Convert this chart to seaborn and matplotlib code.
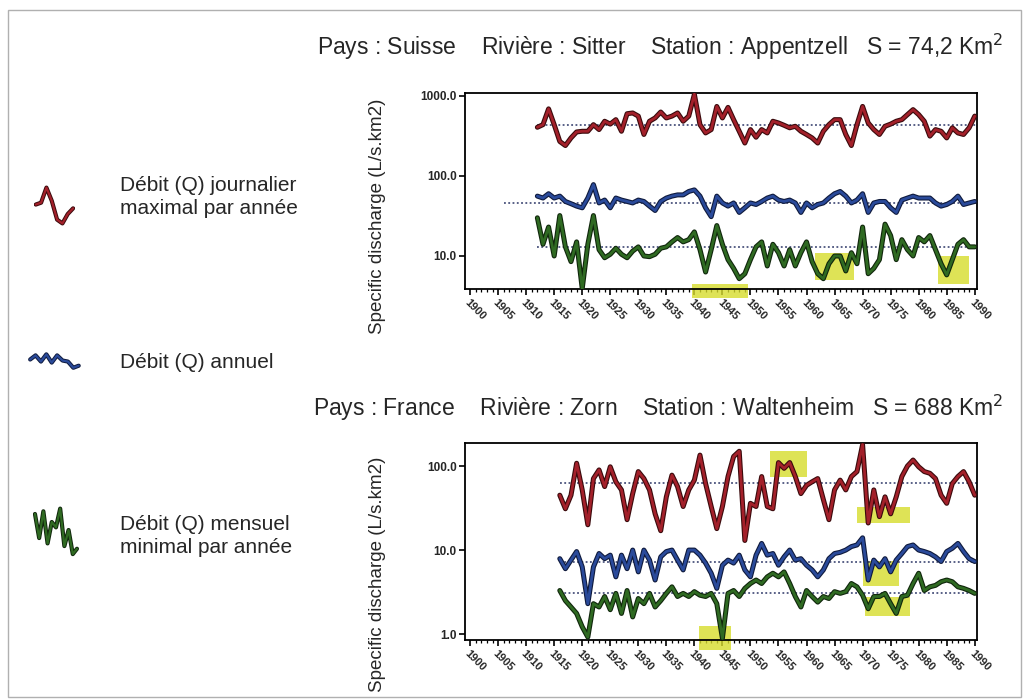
import matplotlib
matplotlib.use('Agg')
import matplotlib.pyplot as plt
import matplotlib.patheffects as pe
from matplotlib.patches import Rectangle
from matplotlib.ticker import MultipleLocator, NullLocator
import seaborn as sns

# Sitter @ Appentzell (Suisse), 1912-1990
years_ch = list(range(1912, 1991))
ch_max = [406, 438, 690, 438, 270, 240, 299, 355, 362, 362, 438, 380, 483, 445, 506, 362, 600, 613, 560, 330, 483, 531, 630, 531, 560, 613, 483,
          560, 1050, 438, 345, 380, 740, 531, 720, 506, 362, 258, 380, 305, 380, 345, 483, 460, 430, 400, 418, 362, 330, 299, 258, 362, 438, 506,
          506, 330, 240, 438, 740, 460, 380, 330, 418, 445, 483, 506, 585, 675, 585, 483, 315, 380, 362, 299, 400, 345, 330, 400, 560]
ch_mean = [56, 53, 60, 53, 56, 48, 45, 42, 40, 53, 78, 46, 50, 40, 53, 50, 48, 46, 50, 48, 42, 37, 48, 53, 56, 58, 58,
           64, 67, 56, 40, 31, 56, 46, 42, 46, 35, 40, 46, 44, 48, 53, 56, 50, 48, 50, 46, 35, 46, 40, 44, 46, 53, 60,
           64, 56, 46, 50, 60, 35, 46, 48, 48, 40, 35, 50, 53, 56, 53, 53, 53, 46, 42, 44, 48, 56, 44, 46, 48]
ch_min = [30, 14, 23, 10, 32, 13, 8.5, 15, 3.9, 14, 32, 12, 9.5, 10.5, 12.5, 10.5, 9.5, 11.5, 13, 10, 9.8, 10.5, 12.5, 13, 15, 17, 15,
          16, 20, 12, 6.3, 12, 24, 14, 9, 7, 5.2, 6, 9, 13, 15, 7.5, 14, 11, 7.5, 12, 7.5, 11, 15, 8.5, 6, 5.2, 8, 10,
          10, 6.5, 11, 8, 23, 6, 7, 9, 25, 18, 9, 16, 12, 10, 17, 15, 18, 12, 8, 5.8, 9, 14, 16, 13, 13]
ch_avg = [438, 46, 12.8]        # dotted average lines
ch_avg_start = [1912, 1906, 1912]

# Zorn @ Waltenheim (France), 1916-1990
years_fr = list(range(1916, 1991))
fr_max = [45, 31, 45, 108, 52, 20, 71, 90, 57, 98, 65, 52, 23, 47, 86, 71, 52, 27, 17, 43, 78, 57, 33, 52,
          68, 135, 62, 33, 18, 33, 75, 130, 150, 13, 36, 33, 75, 33, 31, 110, 94, 110, 75, 47, 59, 65, 71, 40, 23, 52,
          68, 52, 75, 86, 180, 21, 52, 25, 43, 27, 43, 75, 100, 118, 98, 86, 82, 71, 45, 36, 62, 75, 86, 65, 45]
fr_mean = [7.9, 6.0, 7.6, 9.6, 6.3, 2.3, 6.3, 9.1, 7.9, 8.7, 4.8, 8.7, 6.0, 10, 5.5, 10, 7.6, 4.4, 8.3, 9.6, 10, 7.6, 5.8, 10,
           10, 8.7, 7.0, 5.3, 3.5, 6.6, 7.6, 7.0, 8.7, 5.8, 4.8, 8.7, 12, 8.7, 9.1, 6.6, 8.3, 10, 7.6, 7.9, 6.6, 5.8, 4.8, 5.8, 7.9, 9.1,
           9.4, 10, 11, 11.5, 14, 4.4, 7.6, 6.3, 7.9, 5.5, 7.6, 9.1, 11, 11.5, 10, 9.6, 9.1, 8.3, 7.3, 9.6, 10.5, 12, 9.6, 7.9, 7.3]
fr_min = [3.3, 2.5, 2.1, 1.76, 1.22, 0.92, 2.3, 2.1, 2.8, 1.95, 3.05, 1.76, 3.3, 1.6, 2.65, 2.3, 3.05, 2.1, 2.5, 3.05, 3.65, 2.8, 3.05, 2.8,
          3.2, 2.9, 2.8, 3.05, 2.3, 0.89, 3.05, 3.3, 2.8, 3.5, 4.0, 4.4, 4.0, 4.8, 5.3, 4.8, 5.5, 4.0, 2.8, 2.1, 3.3, 2.8, 2.4, 2.8, 2.65, 3.2,
          3.05, 3.2, 4.0, 3.65, 2.9, 2.0, 2.8, 2.8, 3.05, 2.3, 1.76, 2.8, 2.9, 4.0, 5.3, 3.3, 3.65, 3.8, 4.2, 4.4, 4.2, 3.65, 3.5, 3.3, 3.05]
fr_avg = [62, 7.2, 3.05]
fr_avg_start = [1916, 1916, 1916]

# yellow marker highlights (year span, value span)
ch_marks = [((1939.5, 1949.5), (3.0, 4.5)), ((1961.5, 1968.5), (5.0, 11.0)), ((1983.5, 1989.0), (4.5, 10.0))]
fr_marks = [((1953.5, 1960.0), (75, 150)), ((1969.0, 1978.5), (21, 33)), ((1970.0, 1976.5), (3.7, 7.4)),
            ((1970.5, 1978.5), (1.65, 2.8)), ((1940.8, 1946.5), (0.65, 1.25))]

years_ticks = list(range(1900, 1991, 5))
ch_yticks = [10.0, 100.0, 1000.0]
fr_yticks = [1.0, 10.0, 100.0]

titre_ch = 'Pays : Suisse    Rivière : Sitter    Station : Appentzell   S = 74,2 Km$^{2}$'
titre_fr = 'Pays : France    Rivière : Zorn    Station : Waltenheim   S = 688 Km$^{2}$'
legend_labels = ['Débit (Q) journalier\nmaximal par année', 'Débit (Q) annuel', 'Débit (Q) mensuel\nminimal par année']

colors = ['#a3202a', '#2a4a9a', '#2f6a22']
dark = ['#3a0a0c', '#0f1a3c', '#10260c']

# little squiggles used as legend keys
icon_red = [0.5, 0.55, 0.95, 0.6, 0.1, 0.0, 0.25, 0.4]
icon_blue = [0.6, 0.8, 0.5, 0.85, 0.45, 0.8, 0.55, 0.5, 0.2, 0.3]
icon_green = [0.85, 0.4, 0.9, 0.3, 0.7, 0.6, 0.95, 0.25, 0.55, 0.1, 0.2]

sns.set_style('ticks')
plt.rcParams['font.family'] = ['Liberation Sans', 'DejaVu Sans']

fig = plt.figure(figsize=(10.27, 6.99), dpi=100)


def panel(ax, years, series, avgs, avg_starts, marks, ylim, yticks):
    for (x0, x1), (y0, y1) in marks:
        ax.fill_between([x0, x1], y0, y1, color='#d6dc2c', alpha=0.8, lw=0, zorder=1, clip_on=False)
    for val, st in zip(avgs, avg_starts):
        ax.hlines(val, st, 1990.4, colors='#2b3566', linestyles=(0, (1.2, 1.6)), lw=1.1, zorder=2)
    for s, c, d in zip(series, colors, dark):
        sns.lineplot(x=years, y=s, color=c, lw=2.0, ax=ax, zorder=3,
                     path_effects=[pe.Stroke(linewidth=3.6, foreground=d), pe.Normal()])
    ax.set_yscale('log')
    ax.set_xlim(1899.1, 1990.4)
    ax.set_ylim(*ylim)
    ax.set_yticks(yticks)
    ax.set_yticklabels([f'{t:.1f}' for t in yticks], fontsize=8.5, fontweight='bold')
    ax.yaxis.set_minor_locator(NullLocator())
    ax.set_xticks(years_ticks)
    ax.set_xticklabels([str(y) for y in years_ticks], rotation=-45, ha='left',
                       rotation_mode='anchor', fontsize=8, fontweight='bold')
    ax.xaxis.set_minor_locator(MultipleLocator(1))
    ax.tick_params(axis='both', which='major', length=4, width=1.2, color='black', pad=2)
    ax.tick_params(axis='x', which='minor', length=2.5, width=0.9, color='black')
    for sp in ax.spines.values():
        sp.set_visible(True)
        sp.set_linewidth(1.3)
        sp.set_color('black')
    ax.set_ylabel('Specific discharge (L/s.km2)', fontsize=13.5)


ax1 = fig.add_axes([0.4528, 0.5866, 0.4985, 0.2804])
panel(ax1, years_ch, [ch_max, ch_mean, ch_min], ch_avg, ch_avg_start, ch_marks, (3.87, 1090), ch_yticks)
ax1.yaxis.set_label_coords(-0.155, 0.37)

ax2 = fig.add_axes([0.4528, 0.0844, 0.4985, 0.2818])
panel(ax2, years_fr, [fr_max, fr_mean, fr_min], fr_avg, fr_avg_start, fr_marks, (0.85, 188), fr_yticks)
ax2.yaxis.set_label_coords(-0.155, 0.335)

fig.text(0.977, 0.933, titre_ch, ha='right', va='center', fontsize=16.5)
fig.text(0.977, 0.416, titre_fr, ha='right', va='center', fontsize=16.5)

# legend: text + squiggle icons
fig.text(0.117, 0.718, legend_labels[0], ha='left', va='center', fontsize=15, linespacing=1.25)
fig.text(0.117, 0.482, legend_labels[1], ha='left', va='center', fontsize=15)
fig.text(0.117, 0.233, legend_labels[2], ha='left', va='center', fontsize=15, linespacing=1.25)

icon_boxes = [[0.033, 0.675, 0.04, 0.062], [0.027, 0.465, 0.052, 0.034], [0.032, 0.192, 0.045, 0.088]]
for icon, box, c, d in zip([icon_red, icon_blue, icon_green], icon_boxes, colors, dark):
    iax = fig.add_axes(box)
    xs = [i / (len(icon) - 1) for i in range(len(icon))]
    sns.lineplot(x=xs, y=icon, color=c, lw=1.6, ax=iax,
                 path_effects=[pe.Stroke(linewidth=3.0, foreground=d), pe.Normal()])
    iax.set_xlim(-0.05, 1.05)
    iax.set_ylim(-0.1, 1.05)
    iax.axis('off')

fig.patches.append(Rectangle((0.008, 0.003), 0.986, 0.983, transform=fig.transFigure,
                             fill=False, ec='#b0b0b0', lw=1.0))

fig.savefig('out.png', dpi=100, facecolor='white')
